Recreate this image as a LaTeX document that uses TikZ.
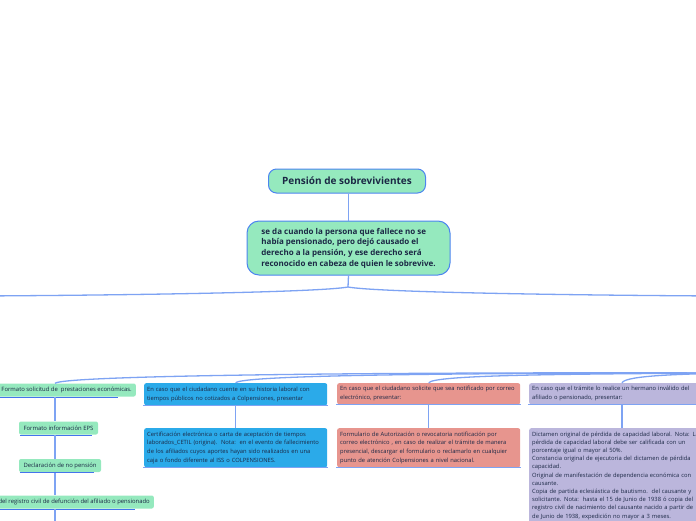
\documentclass[tikz,border=0pt]{standalone}
\usepackage{fontspec}
\setmainfont{Open Sans}
\usetikzlibrary{calc}
\definecolor{mint}{HTML}{95E9BE}
\definecolor{bordblue}{HTML}{4C85F0}
\definecolor{connblue}{HTML}{7EA3F3}
\definecolor{ulblue}{HTML}{4474EC}
\definecolor{navy}{HTML}{1B2845}
\definecolor{skyfill}{HTML}{2BAAE9}
\definecolor{pinkfill}{HTML}{E7958E}
\definecolor{purfill}{HTML}{BBB6DC}
\tikzset{
 conn/.style={draw=connblue, line width=1.3pt},
 uline/.style={draw=ulblue, line width=1pt},
 edge/.style={draw=connblue, line width=0.6pt},
 titlebox/.style={draw=bordblue, line width=1pt, fill=mint, rounded corners=8pt, minimum width=157pt, minimum height=24pt, text=navy, font=\bfseries\fontsize{10}{12}\selectfont},
 mainbox/.style={draw=bordblue, line width=1pt, fill=mint, rounded corners=12pt, minimum width=203pt, minimum height=54pt, align=left, text=navy, font=\bfseries\fontsize{8}{10.6}\selectfont},
 gbox/.style={fill=mint, rounded corners=2pt, minimum height=13pt, inner xsep=4pt, inner ysep=1pt, text=navy, font=\fontsize{5.9}{7}\selectfont},
 cbox/.style={rounded corners=2pt, text width=177pt, inner xsep=3pt, inner ysep=2pt, align=left, anchor=north west, text=navy, font=\fontsize{5.8}{8.7}\selectfont},
}
\begin{document}
\begin{tikzpicture}[x=1pt,y=-1pt]
\useasboundingbox (0,0) rectangle (696,520);
\clip (0,0) rectangle (696,520);

% top nodes
\node[titlebox] (t) at (347,181) {Pensión de sobrevivientes};
\node[mainbox] (m) at (348.5,248) {se da cuando la persona que fallece no se\\había pensionado, pero dejó causado el\\derecho a la pensión, y ese derecho será\\reconocido en cabeza de quien le sobrevive.};
\coordinate (hub) at (348,287);
\coordinate (L) at (-20,296);
\coordinate (R) at (716,296);
\draw[conn] (m.north |- t.south) -- (m.north);
\draw[conn] (m.south) -- (hub);
\draw[conn] (hub) .. controls (320,292) and (150,295) .. (L);
\draw[conn] (hub) .. controls (376,292) and (546,295) .. (R);

% column coordinates
\coordinate (sx) at (55,0);
\coordinate (ux) at (622,0);
\coordinate (S) at (730,373);
\coordinate (gend) at (55,530);

% green column
\node[gbox, anchor=east] (g1) at (136,390) {Formato solicitud de\ \ prestaciones económicas.\hspace{3pt}};
\node[gbox, minimum width=79pt] (g2) at (58.5,428) {Formato información EPS};
\node[gbox, minimum width=82pt] (g3) at (60,465.5) {Declaración de no pensión};
\node[gbox, anchor=east] (g4) at (154,502) {Copia del registro civil de defunción del afiliado o pensionado};
\draw[uline] ([xshift=-2pt,yshift=-0.6pt]g1.south west) -- ([xshift=-18pt,yshift=-0.6pt]g1.south east);
\draw[uline] ([xshift=1pt,yshift=-0.6pt]g2.south west) -- ([xshift=-6pt,yshift=-0.6pt]g2.south east);
\draw[uline] ([xshift=1pt,yshift=-0.6pt]g3.south west) -- ([xshift=-7pt,yshift=-0.6pt]g3.south east);
\draw[uline] ([xshift=-2pt,yshift=-0.6pt]g4.south west) -- ([xshift=-19pt,yshift=-0.6pt]g4.south east);
\draw[conn] ([yshift=-0.6pt]g1.south -| sx) -- (g2.north -| sx);
\draw[conn] ([yshift=-0.6pt]g2.south -| sx) -- (g3.north -| sx);
\draw[conn] ([yshift=-0.6pt]g3.south -| sx) -- (g4.north -| sx);
\draw[conn] ([yshift=-0.6pt]g4.south -| sx) -- (gend);

% blue column
\node[cbox, fill=skyfill, minimum height=22pt] (b1) at (144,383) {\mbox{En caso que el ciudadano cuente en su historia laboral con}\\\mbox{tiempos públicos no cotizados a Colpensiones, presentar}};
\node[cbox, fill=skyfill, minimum height=39pt] (b2) at (144,428) {\mbox{Certificación electrónica o carta de aceptación de tiempos}\\\mbox{laborados\_CETIL (origina).\ \ Nota:\ \ en el evento de fallecimiento}\\\mbox{de los afiliados cuyos aportes hayan sido realizados en una}\\\mbox{caja o fondo diferente al ISS o COLPENSIONES.}};
\draw[conn] (b1.south) -- (b2.north);

% pink column
\node[cbox, fill=pinkfill, minimum height=21pt] (p1) at (337,383) {\mbox{En caso que el ciudadano solicite que sea notificado por correo}\\\mbox{electrónico, presentar:}};
\node[cbox, fill=pinkfill, minimum height=39pt] (p2) at (337,428) {\mbox{Formulario de Autorización o revocatoria notificación por}\\\mbox{correo electrónico , en caso de realizar el trámite de manera}\\\mbox{presencial, descargar el formulario o reclamarlo en cualquier}\\\mbox{punto de atención Colpensiones a nivel nacional.}};
\draw[conn] (p1.south) -- (p2.north);

% purple column
\node[cbox, fill=purfill, minimum height=21pt] (u1) at (529,383) {\mbox{En caso que el trámite lo realice un hermano inválido del}\\\mbox{afiliado o pensionado, presentar:}};
\node[cbox, fill=purfill, inner ysep=3.5pt, font=\fontsize{5.8}{8.2}\selectfont] (u2) at (529,428) {\mbox{Dictamen original de pérdida de capacidad laboral. Nota: La}\\\mbox{pérdida de capacidad laboral debe ser calificada con un}\\\mbox{porcentaje igual o mayor al 50\%.}\\\mbox{Constancia original de ejecutoria del dictamen de pérdida}\\\mbox{capacidad.}\\\mbox{Original de manifestación de dependencia económica con}\\\mbox{causante.}\\\mbox{Copia de partida eclesiástica de bautismo.\ \ del causante y}\\\mbox{solicitante. Nota:\ \ hasta el 15 de Junio de 1938 ó copia del}\\\mbox{registro civil de nacimiento del causante nacido a partir de}\\\mbox{de Junio de 1938, expedición no mayor a 3 meses.}};
\draw[conn] (u1.south -| ux) -- (u2.north -| ux);

% bottom edges of coloured boxes
\foreach \n in {b1,b2,p1,p2,u1}{
  \draw[edge] ([xshift=-0.6pt]\n.south west) -- ([xshift=0.6pt]\n.south east);
}

% branch bundle from the right
\draw[conn] (S) .. controls (400,372) and (64,375) .. (g1.north -| sx);
\draw[conn] (S) .. controls (460,373) and (238,375) .. (b1.north);
\draw[conn] (S) .. controls (560,374) and (431,375) .. (p1.north);
\draw[conn] (S) .. controls (690,374) and (624,375) .. (u1.north -| ux);
\end{tikzpicture}
\end{document}
